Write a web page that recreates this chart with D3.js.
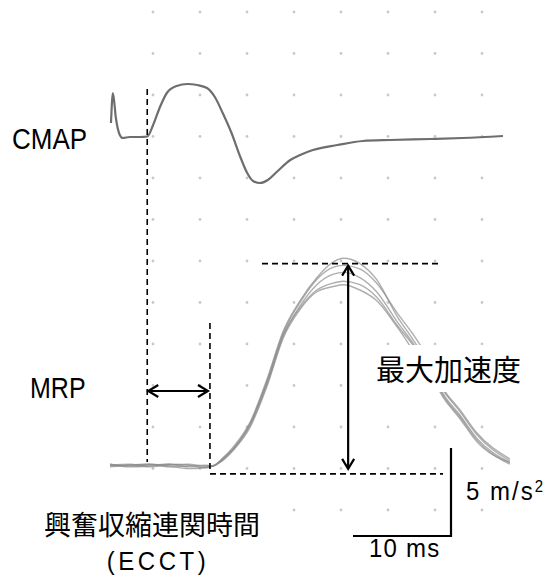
<!DOCTYPE html>
<html><head><meta charset="utf-8">
<script src="https://cdn.jsdelivr.net/npm/d3@7"></script>
<style>html,body{margin:0;padding:0;background:#fff;}svg{display:block;}</style>
</head><body>
<script>
// ---- data ----
// CMAP trace: time (ms) and amplitude (mV, arbitrary)
const cmapTime = [0.1,0.3,0.6,1.0,1.3,2.0,3.1,3.8,4.4,5.1,5.8,6.8,7.9,8.9,9.9,10.7,11.5,12.4,13.3,14.0,14.6,15.3,16.1,17.0,18.4,19.4,20.7,23.2,25.8,28.6,32.7,36.0,40.1];
const cmapValues = [1.4,4.4,1.9,0.2,-0.1,0,0,0.05,1.2,3.0,4.4,5.1,5.3,5.2,4.9,4.0,2.4,0.4,-2.0,-3.6,-4.4,-4.6,-4.3,-3.5,-2.3,-1.8,-1.3,-0.8,-0.4,-0.3,-0.2,-0.1,0.1];
// MRP traces: time (ms) and acceleration (m/s^2), five overlaid sweeps
const mrpTime = [0,2,4,6,8,9.7,10.5,11.5,12.6,14.3,16,17.7,19.4,21.1,22.8,23.8,25.5,27.2,29.3,30.9,32.7,34,35.7,37.4,40.8];
const mrpA = [0.1,0,0.05,0.1,-0.05,-0.05,0,0.45,1.1,2.5,4.9,7.7,9.4,10.7,11.6,11.8,11.5,10.6,8.5,7.2,5.6,4.1,2.9,1.6,0.2];
const mrpB = [0.05,0.1,-0.05,0.05,0.1,0,0,0.4,1.0,2.4,4.8,7.6,9.3,10.6,11.3,11.4,11.2,10.4,8.7,7.5,5.9,4.4,3.2,1.9,0.4];
const mrpC = [0,0.05,0.1,-0.05,0,0.05,0,0.35,0.95,2.3,4.6,7.4,9.1,10.3,10.9,11.0,10.7,9.9,8.2,7.0,5.5,4.0,2.8,1.5,0.1];
const mrpD = [0.1,-0.05,0,0.1,0.05,-0.1,0,0.4,1.0,2.4,4.7,7.5,9.0,10.0,10.4,10.5,10.3,9.6,8.0,6.9,5.6,4.3,3.1,1.8,0.3];
const mrpE = [-0.05,0.05,0.1,0,-0.15,-0.1,0,0.3,0.9,2.2,4.5,7.3,8.9,9.9,10.2,10.3,10.0,9.4,7.9,6.6,5.2,3.9,2.7,1.4,0.2];
const mrpSeries = [mrpA, mrpB, mrpC, mrpD, mrpE];
// annotation values
const cmapOnset = 3.8;      // ms
const mrpOnset = 10.2;      // ms
const peakMark = 11.5;      // m/s^2
const baseMark = -0.45;     // m/s^2
const peakTime = 24.3;      // ms
const scaleBarTime = 10;    // ms
const scaleBarAcc = 5;      // m/s^2
// labels
const labelCMAP = "CMAP";
const labelMRP = "MRP";
const labelPeak = "最大加速度";
const labelECCT = "興奮収縮連関時間";
const labelECCTabbr = "(ECCT)";
const labelTime = "10 ms";
const labelAcc = "5 m/s";

// ---- layout ----
const W = 555, H = 575;
const svg = d3.select("body").append("svg").attr("width", W).attr("height", H);
svg.append("rect").attr("width", W).attr("height", H).attr("fill", "#fff");

const x = d3.scaleLinear().domain([0, 41]).range([110, 110 + 41 * 9.8]);
const yA = d3.scaleLinear().domain([0, 5]).range([466, 378]);
const yC = d3.scaleLinear().domain([0, 5]).range([137, 87]);

// background dot grid
const gridX = d3.range(8).map(i => 153 + 47 * i);
const gridY = d3.range(13).map(j => 12 + 41.5 * j);
const dots = svg.append("g");
gridY.forEach(gy => gridX.forEach(gx => {
  dots.append("circle").attr("cx", gx).attr("cy", gy).attr("r", 1.4).attr("fill", "#c9c9c9");
}));

// MRP traces
const lineA = d3.line().x(d => x(d[0])).y(d => yA(d[1])).curve(d3.curveMonotoneX);
mrpSeries.forEach((s, i) => {
  svg.append("path").datum(mrpTime.map((t, k) => [t, s[k]]))
    .attr("d", lineA).attr("fill", "none")
    .attr("stroke", "#8c8c8c").attr("stroke-width", 1.4).attr("stroke-opacity", 0.7);
});

// CMAP trace
const lineC = d3.line().x(d => x(d[0])).y(d => yC(d[1])).curve(d3.curveMonotoneX);
svg.append("path").datum(cmapTime.map((t, k) => [t, cmapValues[k]]))
  .attr("d", lineC).attr("fill", "none")
  .attr("stroke", "#6e6e6e").attr("stroke-width", 2.2);

// white boxes behind labels
svg.append("rect").attr("x", 372).attr("y", 345).attr("width", 155).attr("height", 47).attr("fill", "#fff");
svg.append("rect").attr("x", 35).attr("y", 506).attr("width", 235).attr("height", 69).attr("fill", "#fff");

// dashed guides
const dash = "6,4";
const guide = (x1, y1, x2, y2) => svg.append("line").attr("x1", x1).attr("y1", y1).attr("x2", x2).attr("y2", y2)
  .attr("stroke", "#000").attr("stroke-width", 1.6).attr("stroke-dasharray", dash);
guide(x(cmapOnset), 89, x(cmapOnset), 462);
guide(x(mrpOnset), 323, x(mrpOnset), 470);
guide(262, yA(peakMark), 440, yA(peakMark));
guide(x(mrpOnset), yA(baseMark), 443, yA(baseMark));

// arrows
const solid = (pts) => svg.append("polyline").attr("points", pts.map(p => p.join(",")).join(" "))
  .attr("fill", "none").attr("stroke", "#000").attr("stroke-width", 2.2);
const ay = 391, ax1 = x(cmapOnset) + 1, ax2 = x(mrpOnset) - 2;
solid([[ax1, ay], [ax2, ay]]);
solid([[ax1 + 10, ay - 6], [ax1, ay], [ax1 + 10, ay + 6]]);
solid([[ax2 - 10, ay - 6], [ax2, ay], [ax2 - 10, ay + 6]]);
const vx = x(peakTime), vy1 = yA(peakMark) + 2, vy2 = yA(baseMark) - 5;
solid([[vx, vy1], [vx, vy2]]);
solid([[vx - 6, vy1 + 10], [vx, vy1], [vx + 6, vy1 + 10]]);
solid([[vx - 6, vy2 - 10], [vx, vy2], [vx + 6, vy2 - 10]]);

// scale bar
const sbX = 451, sbY = 536;
const tLen = x(scaleBarTime) - x(0);
const aLen = yA(0) - yA(scaleBarAcc);
solid([[sbX, sbY - aLen], [sbX, sbY], [sbX - tLen, sbY]]);

// labels
const latin = "'Liberation Sans', Arial, sans-serif";
const cjk = "'Noto Sans CJK JP', sans-serif";
const label = (tx, ty, sy, size, font, str) => svg.append("text")
  .attr("transform", `translate(${tx},${ty}) scale(1,${sy})`)
  .attr("font-family", font).attr("font-size", size).text(str);
label(12, 149, 1.12, 26, latin, labelCMAP);
label(30, 398, 1.15, 25, latin, labelMRP);
label(376, 381, 1, 29, cjk, labelPeak);
label(152, 535, 1, 27, cjk, labelECCT).attr("text-anchor", "middle");
label(158, 570, 1.06, 24, latin, labelECCTabbr).attr("text-anchor", "middle").attr("letter-spacing", 3.5);
label(369, 557, 1.05, 24, latin, labelTime).attr("letter-spacing", 1.2);
const acc = label(466, 500, 1.05, 24, latin, labelAcc).attr("letter-spacing", 2);
acc.append("tspan").attr("dy", -8).attr("font-size", 15).attr("letter-spacing", 0).text("2");
</script>
</body></html>
